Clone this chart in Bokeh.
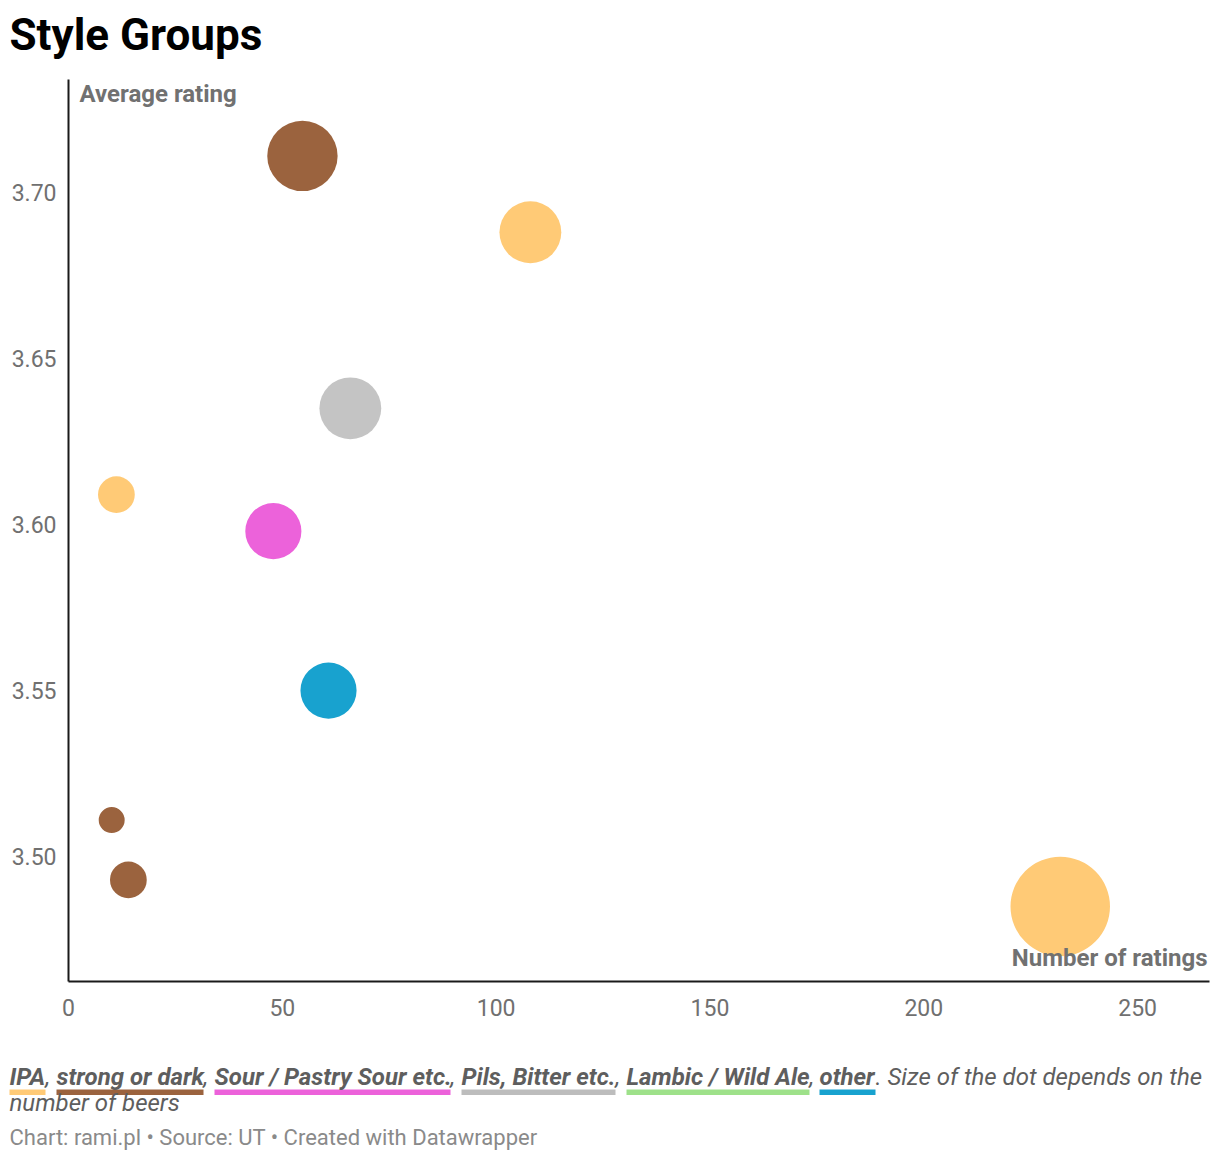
from bokeh.plotting import figure
from bokeh.models import ColumnDataSource, Range1d, FixedTicker, NumeralTickFormatter
from bokeh.core.properties import value
from bokeh.embed import file_html
from bokeh.resources import INLINE

# ---------------- data ----------------
groups = ["strong or dark", "IPA", "Pils, Bitter etc.", "IPA", "Sour / Pastry Sour etc.",
          "other", "strong or dark", "strong or dark", "IPA"]
num_ratings = [54.7, 108.0, 65.9, 11.2, 47.9, 60.8, 10.1, 14.0, 231.9]
avg_rating = [3.711, 3.688, 3.635, 3.609, 3.598, 3.550, 3.511, 3.493, 3.485]
num_beers = [22, 17, 17, 6, 14, 14, 3, 6, 44]

legend_groups = ["IPA", "strong or dark", "Sour / Pastry Sour etc.", "Pils, Bitter etc.",
                 "Lambic / Wild Ale", "other"]
group_colors = ["#ffca76", "#9b633e", "#ec62da", "#c4c4c4", "#9ee18a", "#18a2cf"]
underline_colors = ["#ffca76", "#9b633e", "#ec62da", "#bdbdbd", "#9ee18a", "#18a2cf"]

x_ticks = [0, 50, 100, 150, 200, 250]
y_ticks = [3.50, 3.55, 3.60, 3.65, 3.70]

title_text = "Style Groups"
y_title = "Average rating"
x_title = "Number of ratings"
legend_tail = ". Size of the dot depends on the"
legend_line2 = "number of beers"
footer_text = "Chart: rami.pl \u2022 Source: UT \u2022 Created with Datawrapper"

# ---------------- layout constants (page pixels) ----------------
OX, OY = 1, 1                                # where the canvas lands on the page
FL, FT, FR, FB = 69, 80, 1210, 982           # wanted frame edges on the page
W, H = 1211, 1155
X0, X1 = 0, 266.8
Y0, Y1 = 3.4624, 3.734
BASE_SHIFT = 0.33                            # renderer draws text this many em lower

color_map = dict(zip(legend_groups, group_colors))

src = ColumnDataSource(dict(
    x=num_ratings, y=avg_rating,
    size=[15.0 * b ** 0.5 for b in num_beers],
    color=[color_map[g] for g in groups],
))

p = figure(width=W, height=H, x_range=Range1d(X0, X1), y_range=Range1d(Y0, Y1),
           output_backend="svg", toolbar_location=None,
           min_border_left=FL - OX, min_border_top=FT - OY,
           min_border_right=W + OX - FR, min_border_bottom=H + OY - FB)
p.grid.visible = False
p.outline_line_color = None
p.scatter("x", "y", size="size", fill_color="color", line_color=None, source=src)

for ax in (p.xaxis[0], p.yaxis[0]):
    ax.axis_line_color = "#1a1a1a"
    ax.axis_line_width = 2
    ax.major_tick_line_color = None
    ax.minor_tick_line_color = None
    ax.major_tick_out = 0
    ax.major_tick_in = 0
    ax.major_label_text_font = "Roboto"
    ax.major_label_text_font_size = "23px"
    ax.major_label_text_color = "#707070"

p.xaxis[0].ticker = FixedTicker(ticks=x_ticks)
p.yaxis[0].ticker = FixedTicker(ticks=y_ticks)
p.yaxis[0].formatter = NumeralTickFormatter(format="0.00")
p.xaxis[0].major_label_standoff = 17
p.yaxis[0].major_label_standoff = 12

# page pixel -> data coordinate helpers (for texts / legend swatches around the plot)
kx = (FR - FL) / (X1 - X0)
ky = (FB - FT) / (Y1 - Y0)


def to_x(px):
    return X0 + (px - FL) / kx


def to_y(py):
    return Y1 - (py - FT) / ky


def page_text(texts, pxs, py, size, align="left", **kw):
    """Texts whose alphabetic baseline should sit at page row py."""
    py = py - BASE_SHIFT * size
    p.text(x=[to_x(v) for v in pxs], y=[to_y(py)] * len(pxs), text=texts,
           text_font=value("Roboto"), text_font_size=f"{size}px",
           text_baseline="alphabetic", text_align=align, level="overlay", **kw)


page_text([title_text], [10], 50, 44, text_font_style="bold", text_color="#000000")
page_text([y_title], [80], 102, 24, text_font_style="bold", text_color="#717171")
page_text([x_title], [1208], 966, 24, align="right", text_font_style="bold",
          text_color="#717171")

# legend: group names with coloured underlines
seg_x = [10, 57, 215, 462, 627, 820]
seg_end = [46, 204, 451, 616, 810, 876]
p.quad(left=[to_x(a) for a in seg_x], right=[to_x(b) for b in seg_end],
       top=[to_y(1090)] * 6, bottom=[to_y(1095.5)] * 6,
       fill_color=underline_colors, line_color=None, level="overlay")

legend_color = "#5e5e5e"
page_text(legend_groups, seg_x, 1085, 24, text_font_style="bold italic",
          text_color=legend_color)
page_text([","] * 5, seg_end[:-1], 1085, 24, text_font_style="italic",
          text_color=legend_color)
page_text([legend_tail], [seg_end[-1]], 1085, 24, text_font_style="italic",
          text_color=legend_color)
page_text([legend_line2], [10], 1111, 24, text_font_style="italic",
          text_color=legend_color)
page_text([footer_text], [10], 1145, 22, text_color="#8a8a8a")

open("out.html", "w").write(file_html(p, INLINE))
